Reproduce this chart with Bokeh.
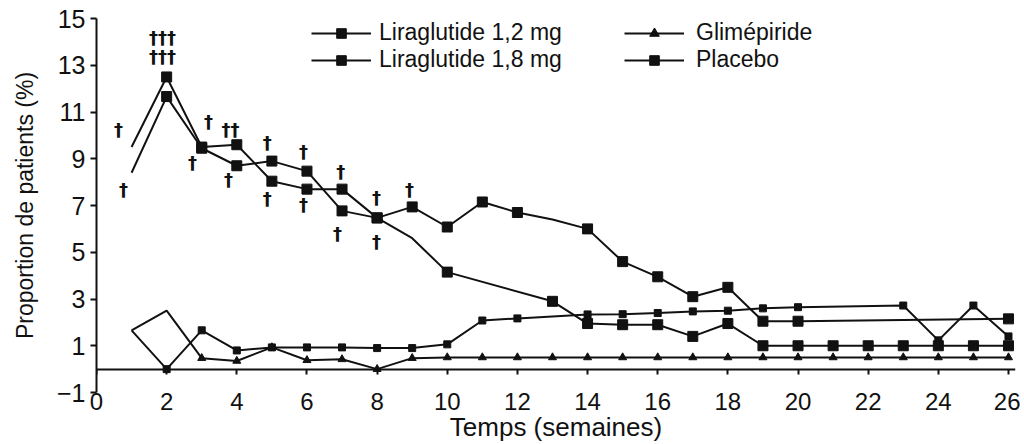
from bokeh.plotting import figure
from bokeh.models import Legend, LegendItem, FixedTicker, Range1d, LinearAxis
from bokeh.embed import file_html
from bokeh.resources import INLINE
from bokeh.core.properties import value

# ---- data ----
lira12_weeks = [1, 2, 3, 4, 5, 6, 7, 8, 9, 10, 11, 12, 14, 15, 16, 17, 18, 19, 20, 23, 24, 25, 26]
lira12_vals = [1.66, 0.0, 1.66, 0.8, 0.93, 0.93, 0.93, 0.9, 0.9, 1.06, 2.08, 2.17,
               2.34, 2.35, 2.4, 2.47, 2.5, 2.6, 2.65, 2.72, 1.23, 2.72, 1.4]

lira18_weeks = list(range(1, 21)) + [26]
lira18_vals = [8.4, 11.66, 9.45, 8.7, 8.9, 8.47, 6.77, 6.47, 6.94, 6.08,
               7.15, 6.7, 6.4, 6.0, 4.6, 3.95, 3.1, 3.5, 2.05, 2.05, 2.15]

placebo_weeks = list(range(1, 11)) + list(range(13, 27))
placebo_vals = [9.5, 12.5, 9.5, 9.6, 8.04, 7.7, 7.7, 6.47, 5.6, 4.15,
                2.9, 1.95, 1.9, 1.9, 1.4, 1.95, 1.0, 1.0, 1.0, 1.0, 1.0, 1.0, 1.0, 1.0]

glim_weeks = list(range(1, 27))
glim_vals = [1.66, 2.5, 0.47, 0.35, 0.93, 0.38, 0.42, 0.0, 0.47] + [0.5] * 17

# weeks drawn without a marker in the reference
lira12_nomark = [1]
lira18_nomark = [1, 13]
placebo_nomark = [1, 9]
glim_nomark = [1, 2]

dagger_x = [0.63, 0.77, 1.88, 1.88, 3.19, 2.74, 3.82, 3.76, 4.87, 4.87,
            5.9, 5.9, 6.96, 6.87, 7.98, 7.98, 8.92]
dagger_y = [10.26, 7.7, 14.2, 13.36, 10.6, 8.85, 10.26, 8.13, 9.7, 7.28,
            9.32, 7.06, 8.47, 5.79, 7.36, 5.45, 7.7]
dagger_text = ["†", "†", "†††", "†††", "†", "†", "††", "†", "†", "†",
               "†", "†", "†", "†", "†", "†", "†"]

x_ticks = list(range(0, 27, 2))
y_ticks = [-1, 1, 3, 5, 7, 9, 11, 13, 15]

FONT = "Liberation Sans"
INK = "#111111"

p = figure(width=1020, height=444, x_range=Range1d(0, 26.2), y_range=Range1d(-1, 15),
           output_backend="svg", toolbar_location=None,
           min_border_left=96, min_border_right=5, min_border_top=18, min_border_bottom=50)
p.outline_line_color = None
p.grid.visible = False
p.background_fill_color = "white"

# bottom axis: only labels and title (at the bottom of the frame, y = -1)
xa = p.xaxis[0]
xa.ticker = FixedTicker(ticks=x_ticks)
xa.axis_line_color = None
xa.major_tick_line_color = None
xa.minor_tick_line_color = None
xa.major_tick_out = 0
xa.major_tick_in = 0
xa.major_label_standoff = 0
xa.major_label_text_font = FONT
xa.major_label_text_font_size = "24px"
xa.major_label_text_color = INK
xa.axis_label = "Temps (semaines)"
xa.axis_label_text_font = FONT
xa.axis_label_text_font_size = "26px"
xa.axis_label_text_font_style = "normal"
xa.axis_label_text_color = INK
xa.axis_label_standoff = -1

# zero axis: line and ticks at y = 0
za = LinearAxis(ticker=FixedTicker(ticks=x_ticks), fixed_location=0)
za.axis_line_width = 2
za.axis_line_color = INK
za.major_tick_out = 5
za.major_tick_in = 0
za.major_tick_line_width = 2
za.major_tick_line_color = INK
za.minor_tick_line_color = None
za.major_label_text_font_size = "0px"
za.major_label_text_alpha = 0
p.add_layout(za, "below")

ya = p.yaxis[0]
ya.ticker = FixedTicker(ticks=y_ticks)
ya.axis_line_width = 2
ya.axis_line_color = INK
ya.major_tick_out = 6
ya.major_tick_in = 0
ya.major_tick_line_width = 2
ya.major_tick_line_color = INK
ya.minor_tick_line_color = None
ya.major_label_standoff = 5
ya.major_label_text_font = FONT
ya.major_label_text_font_size = "25px"
ya.major_label_text_color = INK
ya.axis_label = "Proportion de patients (%)"
ya.axis_label_text_font = FONT
ya.axis_label_text_font_size = "23px"
ya.axis_label_text_font_style = "normal"
ya.axis_label_text_color = INK
ya.axis_label_standoff = 16


def series(weeks, vals, nomark, marker, size):
    ln = p.line(weeks, vals, line_color=INK, line_width=2)
    mx = [w for w in weeks if w not in nomark]
    my = [v for w, v in zip(weeks, vals) if w not in nomark]
    sc = p.scatter(mx, my, marker=marker, size=size, fill_color=INK, line_color=INK)
    return ln, sc


r12 = series(lira12_weeks, lira12_vals, lira12_nomark, "square", 7)
r18 = series(lira18_weeks, lira18_vals, lira18_nomark, "square", 10)
rg = series(glim_weeks, glim_vals, glim_nomark, "triangle", 8)
rp = series(placebo_weeks, placebo_vals, placebo_nomark, "square", 10)

p.text(x=dagger_x, y=dagger_y, text=dagger_text, text_font=value("DejaVu Sans"),
       text_font_size="18px", text_font_style="bold", text_color=INK,
       text_align="center", text_baseline="middle")


def make_legend(label, renderers, loc, standoff):
    leg = Legend(items=[LegendItem(label=label, renderers=list(renderers))],
                 location=loc, orientation="vertical")
    leg.padding = 0
    leg.margin = 0
    leg.spacing = 0
    leg.border_line_alpha = 0
    leg.background_fill_alpha = 0
    leg.glyph_width = 60
    leg.glyph_height = 24
    leg.label_height = 24
    leg.label_standoff = standoff
    leg.label_text_font = FONT
    leg.label_text_font_size = "23px"
    leg.label_text_color = INK
    p.add_layout(leg, "center")
    return leg


make_legend("Liraglutide 1,2 mg", r12, (215, 346), 8)
make_legend("Liraglutide 1,8 mg", r18, (215, 319), 8)
make_legend("Glimépiride", rg, (528, 346), 12)
make_legend("Placebo", rp, (528, 319), 12)

open("out.html", "w").write(file_html(p, INLINE))
